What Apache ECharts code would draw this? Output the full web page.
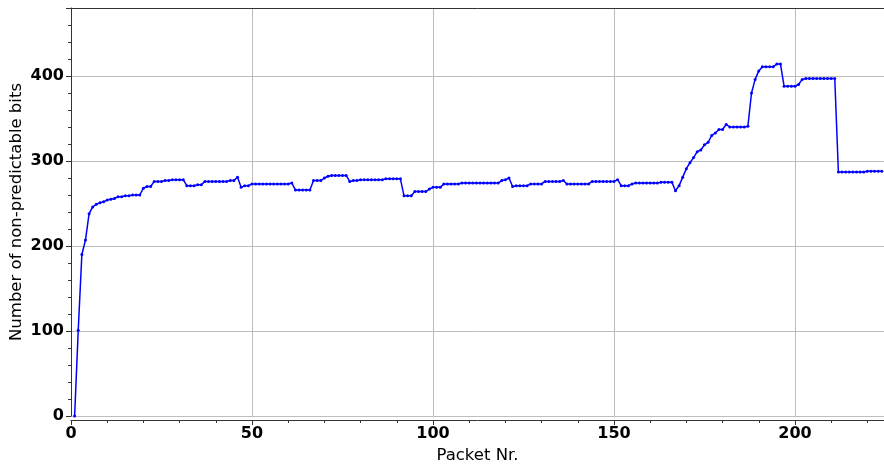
<!DOCTYPE html>
<html>
<head>
<meta charset="utf-8">
<script src="https://cdn.jsdelivr.net/npm/echarts@6/dist/echarts.min.js"></script>
<style>html,body{margin:0;padding:0;background:#fff}#c{width:884px;height:465px}</style>
</head>
<body>
<div id="c"></div>
<script>
const firstPacket = 1;
const bits = [
  0, 101, 190, 207, 238, 246, 249, 251, 252, 254,
  255, 256, 258, 258, 259, 259, 260, 260, 260, 268,
  270, 270, 276, 276, 276, 277, 277, 278, 278, 278,
  278, 271, 271, 271, 272, 272, 276, 276, 276, 276,
  276, 276, 276, 277, 277, 281, 269, 271, 271, 273,
  273, 273, 273, 273, 273, 273, 273, 273, 273, 273,
  274, 266, 266, 266, 266, 266, 277, 277, 277, 280,
  282, 283, 283, 283, 283, 283, 276, 277, 277, 278,
  278, 278, 278, 278, 278, 278, 279, 279, 279, 279,
  279, 259, 259, 259, 264, 264, 264, 264, 267, 269,
  269, 269, 273, 273, 273, 273, 273, 274, 274, 274,
  274, 274, 274, 274, 274, 274, 274, 274, 277, 278,
  280, 270, 271, 271, 271, 271, 273, 273, 273, 273,
  276, 276, 276, 276, 276, 277, 273, 273, 273, 273,
  273, 273, 273, 276, 276, 276, 276, 276, 276, 276,
  278, 271, 271, 271, 273, 274, 274, 274, 274, 274,
  274, 274, 275, 275, 275, 275, 265, 271, 281, 291,
  298, 304, 311, 313, 319, 322, 330, 333, 337, 337,
  343, 340, 340, 340, 340, 340, 341, 380, 396, 406,
  411, 411, 411, 411, 414, 414, 388, 388, 388, 388,
  390, 396, 397, 397, 397, 397, 397, 397, 397, 397,
  397, 287, 287, 287, 287, 287, 287, 287, 287, 288,
  288, 288, 288, 288
];
const xTicks = [0, 50, 100, 150, 200];
const yTicks = [0, 100, 200, 300, 400];
const xTitle = 'Packet Nr.';
const yTitle = 'Number of non-predictable bits';

const points = bits.map((v, i) => [firstPacket + i, v]);
const axisCol = '#333';
const chart = echarts.init(document.getElementById('c'), null, {renderer: 'canvas'});
chart.setOption({
  animation: false,
  grid: {left: 71, right: 0, top: 8, bottom: 49, containLabel: false, outerBoundsMode: 'none'},
  xAxis: [{
    type: 'value', min: 0, max: 224.6, interval: 50, offset: 4,
    name: xTitle, nameLocation: 'middle', nameGap: 26,
    nameTextStyle: {fontFamily: 'DejaVu Sans', fontSize: 16.5, color: '#000'},
    axisLine: {show: true, onZero: false, lineStyle: {color: axisCol, width: 1}},
    axisTick: {show: true, inside: false, length: 5, lineStyle: {color: axisCol}},
    minorTick: {show: true, splitNumber: 5, length: 3, lineStyle: {color: axisCol}},
    axisLabel: {fontFamily: 'DejaVu Sans', fontWeight: 'bold', fontSize: 16, color: '#000', margin: 6,
      formatter: v => xTicks.includes(v) ? String(v) : ''},
    splitLine: {show: true, lineStyle: {color: '#bdbdbd', width: 1}},
    minorSplitLine: {show: false}
  }, {
    type: 'value', position: 'top', min: 0, max: 224.6,
    axisLine: {show: true, onZero: false, lineStyle: {color: axisCol, width: 1}},
    axisTick: {show: false}, axisLabel: {show: false}, splitLine: {show: false}
  }],
  yAxis: {
    type: 'value', min: 0, max: 480, interval: 100,
    name: yTitle, nameLocation: 'middle', nameGap: 46, nameMoveOverlap: false,
    nameTextStyle: {fontFamily: 'DejaVu Sans', fontSize: 16.5, color: '#000'},
    axisLine: {show: true, onZero: false, lineStyle: {color: axisCol, width: 1}},
    axisTick: {show: true, inside: false, length: 5, lineStyle: {color: axisCol}},
    minorTick: {show: true, splitNumber: 5, length: 3, lineStyle: {color: axisCol}},
    axisLabel: {fontFamily: 'DejaVu Sans', fontWeight: 'bold', fontSize: 16, color: '#000', margin: 7,
      formatter: v => yTicks.includes(v) ? String(v) : ''},
    splitLine: {show: true, lineStyle: {color: '#bdbdbd', width: 1}}
  },
  series: [{
    type: 'line', xAxisIndex: 0, data: points,
    symbol: 'circle', symbolSize: 3, showSymbol: true,
    lineStyle: {color: '#0000ff', width: 1.5},
    itemStyle: {color: '#0000ff'}
  }]
});
</script>
</body>
</html>
